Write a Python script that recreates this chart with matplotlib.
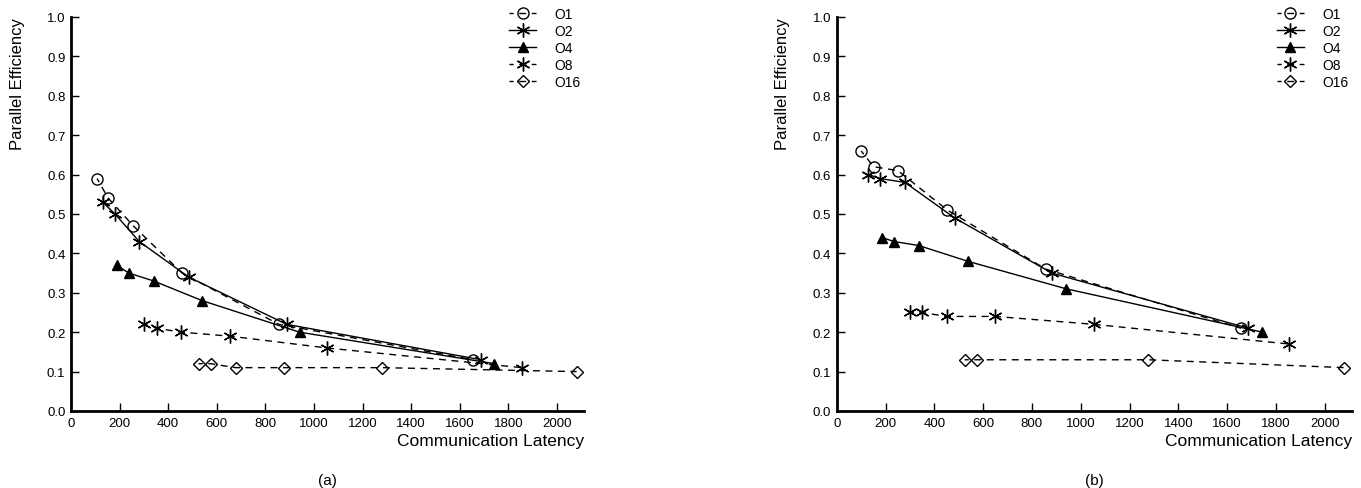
import matplotlib
matplotlib.use('Agg')
import matplotlib.pyplot as plt

plt.rcParams['font.family'] = ['Liberation Sans', 'DejaVu Sans']

# Panel (a) data
a_o1_x = [107, 153, 256, 457, 855, 1656]
a_o1_y = [0.59, 0.54, 0.47, 0.35, 0.22, 0.13]
a_o2_x = [130, 181, 281, 484, 887, 1688]
a_o2_y = [0.53, 0.50, 0.43, 0.34, 0.22, 0.13]
a_o4_x = [188, 238, 340, 540, 941, 1743]
a_o4_y = [0.37, 0.35, 0.33, 0.28, 0.20, 0.12]
a_o8_x = [301, 352, 453, 653, 1053, 1855]
a_o8_y = [0.22, 0.21, 0.20, 0.19, 0.16, 0.11]
a_o16_x = [525, 575, 677, 878, 1278, 2081]
a_o16_y = [0.12, 0.12, 0.11, 0.11, 0.11, 0.10]

# Panel (b) data
b_o1_x = [100, 151, 251, 453, 857, 1657]
b_o1_y = [0.66, 0.62, 0.61, 0.51, 0.36, 0.21]
b_o2_x = [130, 178, 280, 483, 882, 1687]
b_o2_y = [0.60, 0.59, 0.58, 0.49, 0.35, 0.21]
b_o4_x = [185, 236, 336, 537, 941, 1745]
b_o4_y = [0.44, 0.43, 0.42, 0.38, 0.31, 0.20]
b_o8_x = [299, 350, 450, 650, 1053, 1854]
b_o8_y = [0.25, 0.25, 0.24, 0.24, 0.22, 0.17]
b_o16_x = [524, 573, 1277, 2081]
b_o16_y = [0.13, 0.13, 0.13, 0.11]

labels = ['O1', 'O2', 'O4', 'O8', 'O16']
x_ticks = list(range(0, 2001, 200))
y_ticks = [i / 10 for i in range(11)]

asterisk = (6, 2, 0)
dash = (2, (5, 4))
styles = [
    dict(ls=dash, marker='o', ms=8, mfc='none'),
    dict(ls='-', marker=asterisk, ms=10),
    dict(ls='-', marker='^', ms=7.5, mfc='black'),
    dict(ls=dash, marker=asterisk, ms=10),
    dict(ls=dash, marker='D', ms=6.5, mfc='none'),
]

fig = plt.figure(figsize=(13.61, 4.89), dpi=100)
ax_a = fig.add_axes([0.0522, 0.1575, 0.3770, 0.8057])
ax_b = fig.add_axes([0.6148, 0.1575, 0.3786, 0.8057])

panels = [
    (ax_a, '(a)', [(a_o1_x, a_o1_y), (a_o2_x, a_o2_y), (a_o4_x, a_o4_y),
                   (a_o8_x, a_o8_y), (a_o16_x, a_o16_y)]),
    (ax_b, '(b)', [(b_o1_x, b_o1_y), (b_o2_x, b_o2_y), (b_o4_x, b_o4_y),
                   (b_o8_x, b_o8_y), (b_o16_x, b_o16_y)]),
]

for ax, tag, series in panels:
    for (xs, ys), lab, st in zip(series, labels, styles):
        ax.plot(xs, ys, color='black', lw=1.0, mec='black', label=lab, **st)

    ax.set_xlim(0, 2112)
    ax.set_ylim(0, 1.0)
    ax.set_xticks(x_ticks)
    ax.set_yticks(y_ticks)
    ax.set_yticklabels([f'{v:.1f}' for v in y_ticks])
    ax.tick_params(direction='in', length=6, width=1, labelsize=9.5, pad=4)
    for side in ['top', 'right']:
        ax.spines[side].set_visible(False)
    for side in ['left', 'bottom']:
        ax.spines[side].set_linewidth(2)

    ax.set_xlabel('Communication Latency', fontsize=12.5, loc='right')
    ax.xaxis.set_label_coords(1.0, -0.056)
    ax.xaxis.label.set_va('top')
    ax.set_ylabel('Parallel Efficiency', fontsize=12, loc='top')
    ax.yaxis.set_label_coords(-0.09, 1.0)

    ax.text(0.5, -0.175, tag, transform=ax.transAxes, ha='center', va='center', fontsize=11)

    ax.legend(loc='upper right', bbox_to_anchor=(1.012, 1.05), frameon=False,
              fontsize=10, handlelength=2.0, handletextpad=1.3, labelspacing=0.22,
              borderpad=0.2)

fig.savefig('out.png', dpi=100)
